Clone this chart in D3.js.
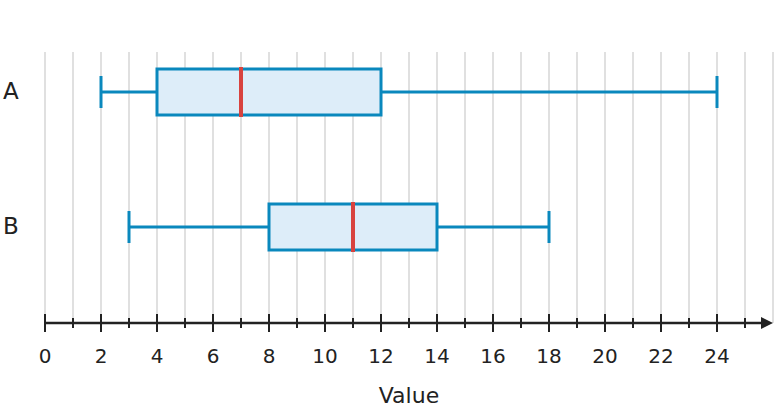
<!DOCTYPE html>
<html><head><meta charset="utf-8">
<script src="https://cdn.jsdelivr.net/npm/d3@7"></script>
<style>body{margin:0;background:#fff}svg{display:block;font-family:"DejaVu Sans",sans-serif}</style>
</head><body><svg id="c" width="777" height="412"></svg>
<script>
const categories = ["A","B"];
const mins = [2, 3];
const q1s = [4, 8];
const medians = [7, 11];
const q3s = [12, 14];
const maxs = [24, 18];
const xTickLabels = [0,2,4,6,8,10,12,14,16,18,20,22,24];
const xLabel = "Value";

const svg = d3.select("#c");
const x = d3.scaleLinear().domain([0, 26]).range([45, 773]);
const y = d3.scaleBand().domain(categories).range([24.5, 294.5]).paddingInner(0.66).paddingOuter(0.33);
const axisY = 323;
const gridTop = 52;

// grid
svg.append("g").selectAll("line").data(d3.range(0, 27)).join("line")
  .attr("x1", d => x(d)).attr("x2", d => x(d))
  .attr("y1", gridTop).attr("y2", axisY)
  .attr("stroke", "#d9d9d9").attr("stroke-width", 1.6);

// boxes
const data = categories.map((c, i) => ({c, min: mins[i], q1: q1s[i], med: medians[i], q3: q3s[i], max: maxs[i]}));
const blue = "#0a88bd";
const g = svg.append("g");
data.forEach(d => {
  const cy = y(d.c) + y.bandwidth() / 2;
  const h = 46;
  const capH = 32;
  g.append("line").attr("x1", x(d.min)).attr("x2", x(d.q1)).attr("y1", cy).attr("y2", cy).attr("stroke", blue).attr("stroke-width", 3);
  g.append("line").attr("x1", x(d.q3)).attr("x2", x(d.max)).attr("y1", cy).attr("y2", cy).attr("stroke", blue).attr("stroke-width", 3);
  g.append("line").attr("x1", x(d.min)).attr("x2", x(d.min)).attr("y1", cy - capH/2).attr("y2", cy + capH/2).attr("stroke", blue).attr("stroke-width", 3);
  g.append("line").attr("x1", x(d.max)).attr("x2", x(d.max)).attr("y1", cy - capH/2).attr("y2", cy + capH/2).attr("stroke", blue).attr("stroke-width", 3);
  g.append("rect").attr("x", x(d.q1)).attr("y", cy - h/2).attr("width", x(d.q3) - x(d.q1)).attr("height", h)
    .attr("fill", "#ddedf9").attr("stroke", blue).attr("stroke-width", 3);
  g.append("line").attr("x1", x(d.med)).attr("x2", x(d.med)).attr("y1", cy - h/2 - 2).attr("y2", cy + h/2 + 2).attr("stroke", "#d8433f").attr("stroke-width", 4);
  svg.append("text").attr("x", 3).attr("y", cy + 7).attr("font-size", 23).attr("fill", "#222").text(d.c);
});

// axis
const ax = svg.append("g");
ax.append("line").attr("x1", 45).attr("x2", 764).attr("y1", axisY).attr("y2", axisY).attr("stroke", "#222").attr("stroke-width", 2.5);
ax.append("path").attr("d", `M773,${axisY} L761,${axisY-6} L761,${axisY+6} Z`).attr("fill", "#222");
ax.selectAll(".mj").data(d3.range(0, 26)).join("line")
  .attr("x1", d => x(d)).attr("x2", d => x(d))
  .attr("y1", d => d % 2 === 0 ? axisY - 9 : axisY - 5)
  .attr("y2", d => d % 2 === 0 ? axisY + 9 : axisY + 5)
  .attr("stroke", "#222").attr("stroke-width", 2);
ax.selectAll("text").data(xTickLabels).join("text")
  .attr("x", d => x(d)).attr("y", 363).attr("text-anchor", "middle")
  .attr("font-size", 20).attr("fill", "#222").text(d => d);
svg.append("text").attr("x", 409).attr("y", 403).attr("text-anchor", "middle")
  .attr("font-size", 22).attr("fill", "#222").text(xLabel);
</script></body></html>
